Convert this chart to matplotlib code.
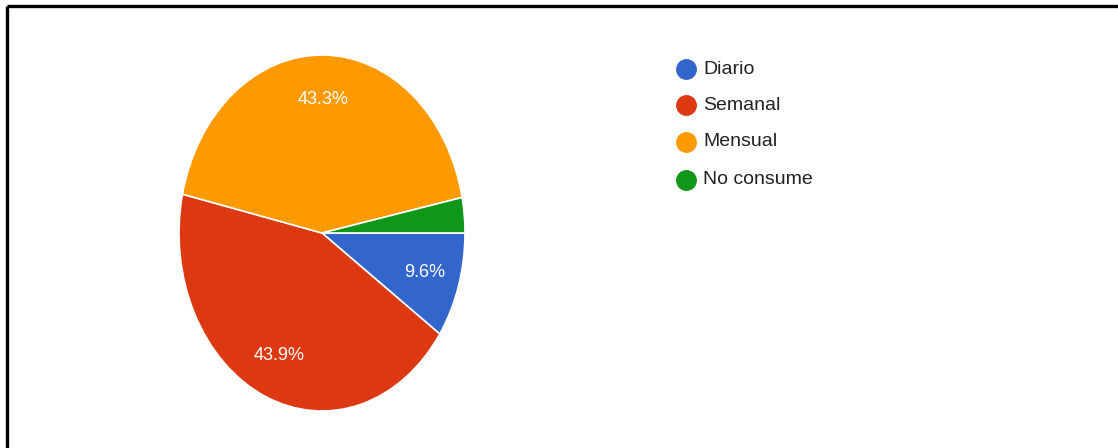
import matplotlib
matplotlib.use("Agg")
import matplotlib.pyplot as plt

categories = ["Diario", "Semanal", "Mensual", "No consume"]
values = [9.6, 43.9, 43.3, 3.2]
colors = ["#3366cc", "#dc3912", "#ff9900", "#109618"]

W, H = 1118, 448
fig = plt.figure(figsize=(W / 100, H / 100), dpi=100)
plt.rcParams['font.family'] = ['Liberation Sans', 'DejaVu Sans']

# pie (elliptical as in the reference)
cx, cy, rx, ry = 322, 233, 143, 178
ax = fig.add_axes([(cx - rx) / W, (H - cy - ry) / H, 2 * rx / W, 2 * ry / H])
wedges, texts, autotexts = ax.pie(
    values, colors=colors, startangle=0, counterclock=False,
    autopct=lambda p: f"{p:.1f}%" if p > 5 else "", pctdistance=0.75,
    wedgeprops=dict(edgecolor="white", linewidth=1.2),
    textprops=dict(color="white", fontsize=13))
ax.set_aspect("auto")
ax.set_xlim(-1, 1)
ax.set_ylim(-1, 1)
ax.axis("off")

# overlay for legend and frame
ov = fig.add_axes([0, 0, 1, 1], zorder=5)
ov.set_xlim(0, W)
ov.set_ylim(H, 0)
ov.axis("off")
ov.patch.set_alpha(0)

leg_y = [69, 105, 142, 180]
for lab, col, y in zip(categories, colors, leg_y):
    ov.plot([686], [y], marker="o", markersize=14, color=col, linestyle="none")
    ov.text(703, y, lab, fontsize=14, color="#222222", va="center", ha="left")

# frame lines (top and left)
ov.plot([7, W], [6, 6], color="black", linewidth=2.4, solid_capstyle="butt")
ov.plot([7, 7], [6, H], color="black", linewidth=2.4, solid_capstyle="butt")

fig.savefig("out.png", dpi=100)
